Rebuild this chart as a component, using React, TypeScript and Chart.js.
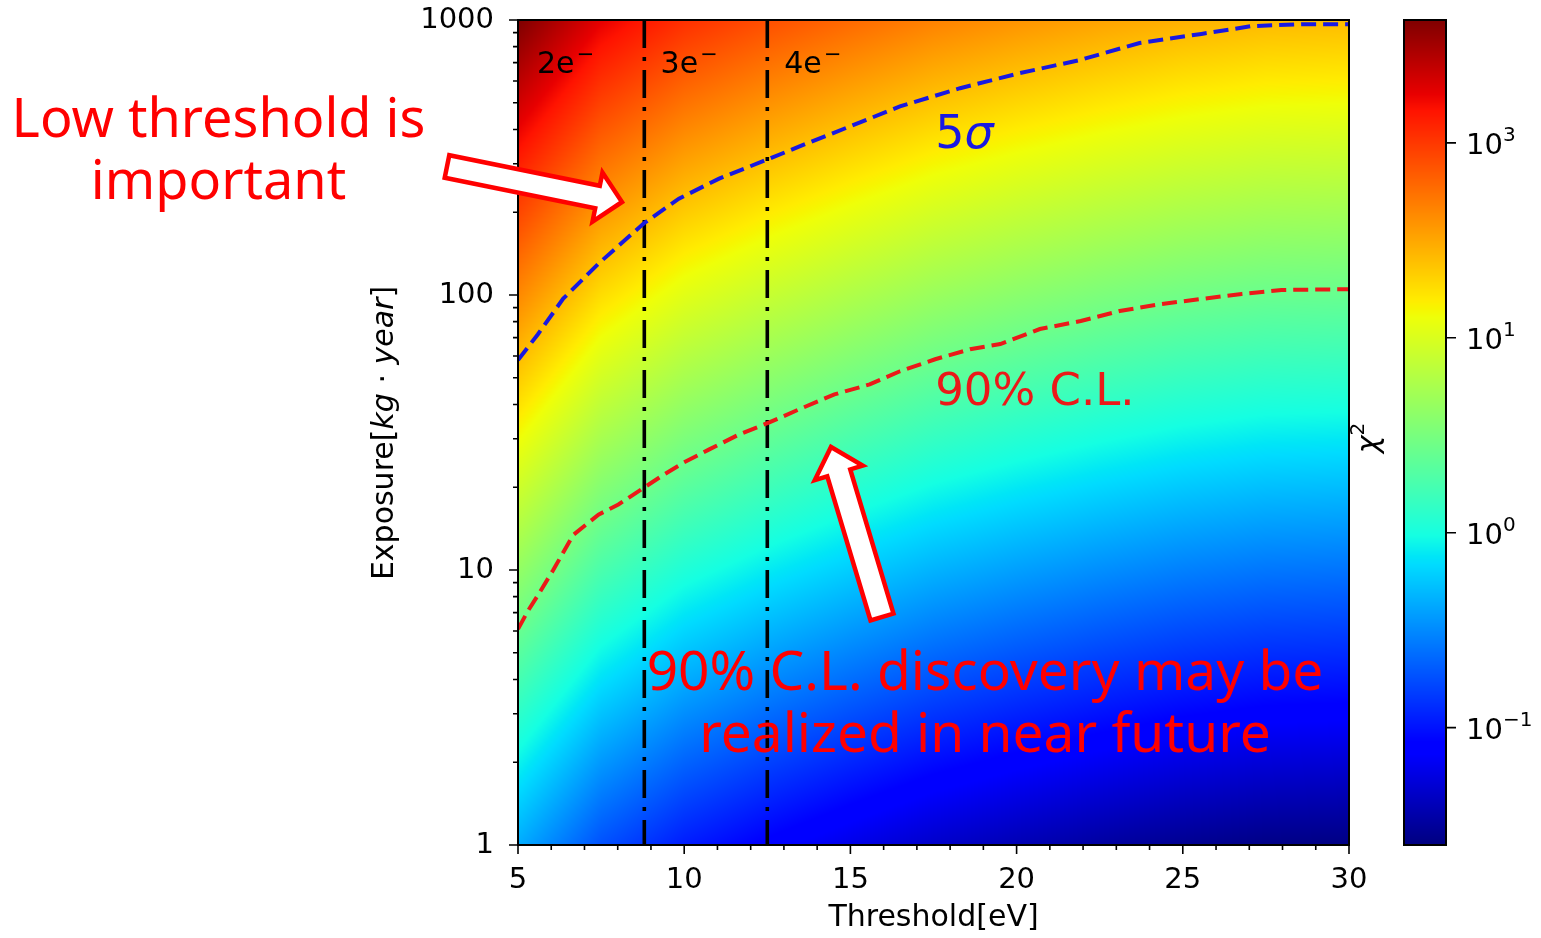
import React, { useEffect, useRef } from "react";
import { Chart, registerables } from "chart.js";
Chart.register(...registerables);

// ---------------- data ----------------
const thresholdGrid = [5, 7.5, 10, 12.5, 15, 17.5, 20, 22.5, 25, 27.5, 30];
const log10ExposureGrid = [0, 0.5, 1, 1.5, 2, 2.5, 3];
// log10(chi^2) at each (exposure row, threshold column)
const log10Chi2Grid = [
  [-0.36, -0.74, -0.96, -1.1, -1.22, -1.33, -1.41, -1.48, -1.54, -1.58, -1.59],
  [0.14, -0.24, -0.46, -0.6, -0.72, -0.83, -0.91, -0.98, -1.04, -1.08, -1.09],
  [0.64, 0.26, 0.04, -0.1, -0.22, -0.33, -0.41, -0.48, -0.54, -0.58, -0.59],
  [1.14, 0.76, 0.54, 0.4, 0.28, 0.17, 0.09, 0.02, -0.04, -0.08, -0.09],
  [1.64, 1.26, 1.04, 0.9, 0.78, 0.67, 0.59, 0.52, 0.46, 0.42, 0.41],
  [2.14, 1.76, 1.54, 1.4, 1.28, 1.17, 1.09, 1.02, 0.96, 0.92, 0.91],
  [2.64, 2.26, 2.04, 1.9, 1.78, 1.67, 1.59, 1.52, 1.46, 1.42, 1.41],
];

const cl90Threshold = [5, 5.3, 5.6, 6.06, 6.66, 7.42, 8.02, 8.78, 9.38, 9.99, 10.74, 11.65, 12.56, 13.46, 14.52, 15.58, 16.49, 17.55, 18.6, 19.51, 20.7, 21.93, 23.1, 24.35, 25.56, 26.77, 27.97, 30];
const cl90Exposure = [6.1, 7.1, 8.1, 10.0, 13.4, 15.9, 17.3, 19.9, 22.2, 24.6, 27.4, 31.1, 34.4, 38.4, 43.5, 47.3, 52.8, 58.4, 63.5, 66.3, 75.2, 80.4, 87.5, 92.7, 96.7, 100.9, 104.3, 105];

const sigma5Threshold = [5, 5.6, 6.36, 7.42, 8.78, 9.84, 11.05, 12.56, 13.47, 14.98, 16.49, 18.3, 20.1, 21.9, 23.7, 25.56, 27.07, 28.6, 30];
const sigma5Exposure = [58, 72, 97, 130, 182, 224, 265, 313, 347, 410, 485, 565, 641, 715, 825, 890, 950, 966, 966];

const electronLineThresholds = [8.8, 12.5];
const electronLabels = ["2e", "3e", "4e"];
const electronLabelThresholds = [5.57, 9.29, 13.01];
const electronLabelExposure = 641;

const xTicks = [5, 10, 15, 20, 25, 30];
const yTicks = [1, 10, 100, 1000];
const cbTicks = [0.1, 1, 10, 100];
const cbTickBase = "10";
const cbTickExponents = ["\u22121", "0", "1", "3"];
const cbMin = 0.025;
const cbMax = 427;

// ---------------- styling helpers ----------------
const FONT = '"DejaVu Sans"';
const ANNOT_FONT = '"Noto Sans"';

const jetR: number[][] = [[0, 0], [0.35, 0], [0.66, 1], [0.89, 1], [1, 0.5]];
const jetG: number[][] = [[0, 0], [0.125, 0], [0.375, 1], [0.64, 1], [0.91, 0], [1, 0]];
const jetB: number[][] = [[0, 0.5], [0.11, 1], [0.34, 1], [0.65, 0], [1, 0]];

function piece(pts: number[][], t: number) {
  if (t <= pts[0][0]) return pts[0][1];
  for (let i = 0; i < pts.length - 1; i++) {
    const a = pts[i], b = pts[i + 1];
    if (t <= b[0]) return a[1] + ((t - a[0]) / (b[0] - a[0])) * (b[1] - a[1]);
  }
  return pts[pts.length - 1][1];
}
function jet(t: number): [number, number, number] {
  const c = Math.min(1, Math.max(0, t));
  return [piece(jetR, c) * 255, piece(jetG, c) * 255, piece(jetB, c) * 255];
}
function gridPos(arr: number[], v: number): [number, number] {
  const n = arr.length;
  if (v <= arr[0]) return [0, 0];
  if (v >= arr[n - 1]) return [n - 2, 1];
  let i = 0;
  while (v > arr[i + 1]) i++;
  return [i, (v - arr[i]) / (arr[i + 1] - arr[i])];
}
function sampleLog(t: number, le: number) {
  const [i, fi] = gridPos(thresholdGrid, t);
  const [j, fj] = gridPos(log10ExposureGrid, le);
  const g = log10Chi2Grid;
  const a = g[j][i] * (1 - fi) + g[j][i + 1] * fi;
  const b = g[j + 1][i] * (1 - fi) + g[j + 1][i + 1] * fi;
  return a * (1 - fj) + b * fj;
}
const cbLogMin = Math.log10(cbMin);
const cbLogMax = Math.log10(cbMax);

function drawSegments(ctx: CanvasRenderingContext2D, segs: { t: string; f: string; dy?: number }[], x: number, y: number, align: "left" | "center") {
  let total = 0;
  const widths = segs.map((s) => {
    ctx.font = s.f;
    const w = ctx.measureText(s.t).width;
    total += w;
    return w;
  });
  let cx = align === "center" ? x - total / 2 : x;
  segs.forEach((s, i) => {
    ctx.font = s.f;
    ctx.fillText(s.t, cx, y + (s.dy || 0));
    cx += widths[i];
  });
}

function blockArrow(ctx: CanvasRenderingContext2D, tail: number[], tip: number[], shaftW: number, headW: number, headL: number) {
  const dx = tip[0] - tail[0], dy = tip[1] - tail[1];
  const L = Math.hypot(dx, dy);
  const ux = dx / L, uy = dy / L, nx = -uy, ny = ux;
  const bx = tip[0] - ux * headL, by = tip[1] - uy * headL;
  const p = [
    [tail[0] + nx * shaftW / 2, tail[1] + ny * shaftW / 2],
    [bx + nx * shaftW / 2, by + ny * shaftW / 2],
    [bx + nx * headW / 2, by + ny * headW / 2],
    [tip[0], tip[1]],
    [bx - nx * headW / 2, by - ny * headW / 2],
    [bx - nx * shaftW / 2, by - ny * shaftW / 2],
    [tail[0] - nx * shaftW / 2, tail[1] - ny * shaftW / 2],
  ];
  ctx.beginPath();
  p.forEach((q, i) => (i ? ctx.lineTo(q[0], q[1]) : ctx.moveTo(q[0], q[1])));
  ctx.closePath();
  ctx.fillStyle = "#ffffff";
  ctx.fill();
  ctx.lineWidth = 4.5;
  ctx.lineJoin = "miter";
  ctx.strokeStyle = "#ff0000";
  ctx.stroke();
}

function noScalePadding(s: any) {
  s.paddingTop = 0;
  s.paddingBottom = 0;
  s.paddingLeft = 0;
  s.paddingRight = 0;
}

// ---------------- plugins ----------------
const heatmapPlugin = {
  id: "heatmap",
  beforeDatasetsDraw(chart: any) {
    const { ctx, chartArea: a, scales } = chart;
    const x = scales.x, y = scales.y;
    const left = Math.round(a.left), top = Math.round(a.top);
    const w = Math.round(a.right) - left, h = Math.round(a.bottom) - top;
    const img = ctx.createImageData(w, h);
    const ts: number[] = [];
    for (let i = 0; i < w; i++) ts.push(x.getValueForPixel(left + i + 0.5));
    for (let j = 0; j < h; j++) {
      const le = Math.log10(y.getValueForPixel(top + j + 0.5));
      for (let i = 0; i < w; i++) {
        const v = sampleLog(ts[i], le);
        const c = jet((v - cbLogMin) / (cbLogMax - cbLogMin));
        const k = (j * w + i) * 4;
        img.data[k] = c[0];
        img.data[k + 1] = c[1];
        img.data[k + 2] = c[2];
        img.data[k + 3] = 255;
      }
    }
    ctx.putImageData(img, left, top);
  },
};

const decorPlugin = {
  id: "decor",
  afterDraw(chart: any) {
    const { ctx, chartArea: a, scales } = chart;
    const x = scales.x, y = scales.y;
    ctx.save();
    // frame
    ctx.strokeStyle = "#000";
    ctx.lineWidth = 2;
    ctx.strokeRect(a.left, a.top, a.right - a.left, a.bottom - a.top);
    // ticks
    ctx.lineWidth = 1.6;
    ctx.beginPath();
    for (let v = 5; v <= 30; v++) {
      const px = x.getPixelForValue(v);
      const len = v % 5 === 0 ? 9 : 5;
      ctx.moveTo(px, a.bottom);
      ctx.lineTo(px, a.bottom + len);
    }
    for (let d = 1; d <= 1000; d *= 10) {
      for (let m = 1; m <= 9; m++) {
        const v = d * m;
        if (v > 1000) break;
        const py = y.getPixelForValue(v);
        const len = m === 1 ? 9 : 5;
        ctx.moveTo(a.left, py);
        ctx.lineTo(a.left - len, py);
      }
    }
    ctx.stroke();

    ctx.fillStyle = "#000";
    ctx.textBaseline = "alphabetic";
    ctx.textAlign = "left";
    // electron labels
    electronLabels.forEach((lab, i) => {
      const px = x.getPixelForValue(electronLabelThresholds[i]);
      const py = y.getPixelForValue(electronLabelExposure);
      drawSegments(ctx, [
        { t: lab, f: `30px ${FONT}` },
        { t: " ", f: `7px ${FONT}` },
        { t: "\u2212", f: `21px ${FONT}`, dy: -12 },
      ], px, py, "left");
    });

    // contour labels
    ctx.fillStyle = "rgb(25,25,225)";
    drawSegments(ctx, [
      { t: "5", f: `46px ${FONT}` },
      { t: "\u03C3", f: `italic 46px ${FONT}` },
    ], x.getPixelForValue(17.55), y.getPixelForValue(343), "left");
    ctx.fillStyle = "rgb(235,25,25)";
    drawSegments(ctx, [{ t: "90% C.L.", f: `45px ${FONT}` }], x.getPixelForValue(17.55), y.getPixelForValue(39.8), "left");

    // y title
    ctx.save();
    ctx.fillStyle = "#000";
    ctx.translate(393, 433);
    ctx.rotate(-Math.PI / 2);
    drawSegments(ctx, [
      { t: "Exposure[", f: `30px ${FONT}` },
      { t: "kg", f: `italic 30px ${FONT}` },
      { t: " \u00B7 ", f: `30px ${FONT}` },
      { t: "year", f: `italic 30px ${FONT}` },
      { t: "]", f: `30px ${FONT}` },
    ], 0, 0, "center");
    ctx.restore();

    // annotations
    blockArrow(ctx, [447, 166.5], [622, 202], 23, 50, 25);
    blockArrow(ctx, [882, 617], [831, 447], 24, 50, 27);
    ctx.fillStyle = "#ff0000";
    ctx.textAlign = "center";
    ctx.font = `54px ${ANNOT_FONT}`;
    ctx.fillText("Low threshold is", 218.5, 137);
    ctx.fillText("important", 218.5, 199);
    ctx.font = `55px ${ANNOT_FONT}`;
    ctx.fillText("90% C.L. discovery may be", 985, 690);
    ctx.fillText("realized in near future", 985, 752);
    ctx.restore();
  },
};

const colorbarPlugin = {
  id: "colorbar",
  beforeDatasetsDraw(chart: any) {
    const { ctx, chartArea: a, scales } = chart;
    const y = scales.y;
    const left = Math.round(a.left), top = Math.round(a.top);
    const w = Math.round(a.right) - left, h = Math.round(a.bottom) - top;
    const img = ctx.createImageData(w, h);
    for (let j = 0; j < h; j++) {
      const lv = Math.log10(y.getValueForPixel(top + j + 0.5));
      const c = jet((lv - cbLogMin) / (cbLogMax - cbLogMin));
      for (let i = 0; i < w; i++) {
        const k = (j * w + i) * 4;
        img.data[k] = c[0];
        img.data[k + 1] = c[1];
        img.data[k + 2] = c[2];
        img.data[k + 3] = 255;
      }
    }
    ctx.putImageData(img, left, top);
  },
  afterDraw(chart: any) {
    const { ctx, chartArea: a, scales } = chart;
    const y = scales.y;
    ctx.save();
    ctx.strokeStyle = "#000";
    ctx.lineWidth = 2;
    ctx.strokeRect(a.left, a.top, a.right - a.left, a.bottom - a.top);
    ctx.lineWidth = 1.6;
    ctx.beginPath();
    cbTicks.forEach((v) => {
      const py = y.getPixelForValue(v);
      ctx.moveTo(a.right, py);
      ctx.lineTo(a.right + 10, py);
    });
    ctx.stroke();
    // tick labels 10^n
    ctx.fillStyle = "#000";
    ctx.textAlign = "left";
    ctx.textBaseline = "alphabetic";
    cbTicks.forEach((v, i) => {
      const py = y.getPixelForValue(v);
      drawSegments(ctx, [
        { t: cbTickBase, f: `29px ${FONT}` },
        { t: cbTickExponents[i], f: `20px ${FONT}`, dy: -13 },
      ], a.right + 20, py + 11, "left");
    });
    // chi^2 label
    ctx.translate(a.left - 26, 438);
    ctx.rotate(-Math.PI / 2);
    drawSegments(ctx, [
      { t: "\u03C7", f: `italic 30px ${FONT}` },
      { t: "2", f: `20px ${FONT}`, dy: -14 },
    ], 0, 0, "center");
    ctx.restore();
  },
};

// ---------------- component ----------------
export default function App() {
  const mainRef = useRef<HTMLCanvasElement>(null);
  const cbRef = useRef<HTMLCanvasElement>(null);

  useEffect(() => {
    const tickFont = { family: "DejaVu Sans", size: 29 };
    const main = new Chart(mainRef.current as HTMLCanvasElement, {
      type: "line",
      data: {
        datasets: [
          {
            label: "90% C.L.",
            data: cl90Threshold.map((t, i) => ({ x: t, y: cl90Exposure[i] })),
            borderColor: "rgb(235,25,25)",
            borderWidth: 4,
            borderDash: [15, 7],
            pointRadius: 0,
            tension: 0,
            fill: false,
          },
          {
            label: "5σ",
            data: sigma5Threshold.map((t, i) => ({ x: t, y: sigma5Exposure[i] })),
            borderColor: "rgb(25,25,225)",
            borderWidth: 4,
            borderDash: [15, 7],
            pointRadius: 0,
            tension: 0,
            fill: false,
          },
          ...electronLineThresholds.map((t) => ({
            label: "line",
            data: [{ x: t, y: 1000 }, { x: t, y: 1 }],
            borderColor: "#000",
            borderWidth: 3.6,
            borderDash: [28, 9, 4, 9],
            pointRadius: 0,
            fill: false,
          })),
        ],
      } as any,
      options: {
        responsive: false,
        maintainAspectRatio: false,
        animation: false,
        devicePixelRatio: 1,
        layout: { padding: { left: 0, top: 20, right: 192, bottom: 0 } },
        plugins: { legend: { display: false }, tooltip: { enabled: false } },
        scales: {
          x: {
            type: "linear",
            min: 5,
            max: 30,
            grid: { display: false, drawTicks: false },
            border: { display: false },
            ticks: {
              stepSize: 5,
              padding: 18,
              color: "#000",
              font: tickFont,
              maxRotation: 0,
              autoSkip: false,
              callback: (v: any) => String(v),
            },
            afterBuildTicks: (s: any) => {
              s.ticks = xTicks.map((v) => ({ value: v }));
            },
            title: {
              display: true,
              text: "Threshold[eV]",
              color: "#000",
              font: { family: "DejaVu Sans", size: 30 },
              padding: { top: 0, bottom: 2 },
            },
            afterFit: (s: any) => {
              s.height = 93;
              noScalePadding(s);
            },
          },
          y: {
            type: "logarithmic",
            min: 1,
            max: 1000,
            grid: { display: false, drawTicks: false },
            border: { display: false },
            ticks: {
              padding: 24,
              color: "#000",
              font: tickFont,
              autoSkip: false,
              callback: (v: any) => String(v),
            },
            afterBuildTicks: (s: any) => {
              s.ticks = yTicks.map((v) => ({ value: v }));
            },
            afterFit: (s: any) => {
              s.width = 518;
              noScalePadding(s);
            },
          },
        },
      } as any,
      plugins: [heatmapPlugin, decorPlugin],
    });

    const cb = new Chart(cbRef.current as HTMLCanvasElement, {
      type: "line",
      data: { datasets: [] },
      options: {
        responsive: false,
        maintainAspectRatio: false,
        animation: false,
        devicePixelRatio: 1,
        layout: { padding: { left: 59, top: 20, right: 0, bottom: 93 } },
        plugins: { legend: { display: false }, tooltip: { enabled: false } },
        scales: {
          x: { type: "linear", display: false, min: 0, max: 1 },
          y: {
            type: "logarithmic",
            position: "right",
            min: cbMin,
            max: cbMax,
            grid: { display: false, drawTicks: false },
            border: { display: false },
            ticks: { display: false },
            afterBuildTicks: (s: any) => {
              s.ticks = cbTicks.map((v) => ({ value: v }));
            },
            afterFit: (s: any) => {
              s.width = 95;
              noScalePadding(s);
            },
          },
        },
      } as any,
      plugins: [colorbarPlugin],
    });

    return () => {
      main.destroy();
      cb.destroy();
    };
  }, []);

  return (
    <div style={{ position: "fixed", left: 0, top: 0, width: 1541, height: 938, background: "#fff" }}>
      <canvas ref={mainRef} width={1541} height={938} style={{ position: "absolute", left: 0, top: 0 }} />
      <canvas ref={cbRef} width={196} height={938} style={{ position: "absolute", left: 1345, top: 0 }} />
    </div>
  );
}
